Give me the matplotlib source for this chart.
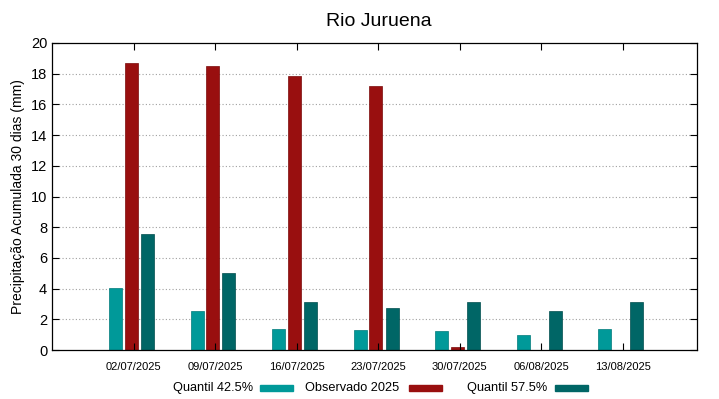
import numpy as np
import matplotlib
matplotlib.use("Agg")
import matplotlib.pyplot as plt
from matplotlib.patches import Rectangle

plt.rcParams['font.family'] = ['Liberation Sans', 'DejaVu Sans']

datas = ["02/07/2025", "09/07/2025", "16/07/2025", "23/07/2025",
         "30/07/2025", "06/08/2025", "13/08/2025"]
quantil_425 = [4.04, 2.52, 1.38, 1.28, 1.24, 0.98, 1.38]
observado_2025 = [18.7, 18.5, 17.85, 17.2, 0.2, 0.0, 0.0]
quantil_575 = [7.56, 5.02, 3.12, 2.74, 3.15, 2.53, 3.15]

cor_q425 = "#009999"
cor_obs = "#990f0f"
cor_q575 = "#006666"

fig = plt.figure(figsize=(7.19, 3.99), dpi=100)
ax = fig.add_axes([52 / 719, 1 - 350 / 399, 645 / 719, 307 / 399])

x = np.arange(len(datas))
largura = 0.16
ax.bar(x - 0.22, quantil_425, largura, color=cor_q425, edgecolor="#007a7a", linewidth=0.5)
ax.bar(x - 0.03, observado_2025, largura, color=cor_obs, edgecolor="#7a0a0a", linewidth=0.5)
ax.bar(x + 0.17, quantil_575, largura, color=cor_q575, edgecolor="#004d4d", linewidth=0.5)

ax.set_xlim(-1, 6.91)
ax.set_ylim(0, 20)
ax.set_yticks(range(0, 21, 2))
ax.set_xticks(x)
ax.set_xticklabels(datas, fontsize=8)
for lbl in ax.get_xticklabels():
    lbl.set_x(lbl.get_position()[0])
ax.tick_params(axis='y', labelsize=10.5, direction='in', right=True, length=5)
ax.tick_params(axis='x', direction='in', top=True, length=5, pad=9)
for y in range(2, 20, 2):
    ax.axhline(y, color="#a0a0a0", linestyle=(0, (1, 2)), linewidth=0.8, zorder=0)
for s in ax.spines.values():
    s.set_linewidth(0.9)

ax.set_ylabel("Precipitação Acumulada 30 dias (mm)", fontsize=10)
ax.set_title("Rio Juruena", fontsize=14, pad=12, x=0.507)

# legenda estilo gnuplot: texto e depois a cor
itens = [("Quantil 42.5%", cor_q425, 253, 260),
         ("Observado 2025", cor_obs, 399, 409),
         ("Quantil 57.5%", cor_q575, 547, 555)]
for texto, cor, xt, xr in itens:
    fig.text(xt / 719, 1 - 388 / 399, texto, ha='right', va='center', fontsize=9.2)
    fig.patches.append(Rectangle((xr / 719, 1 - 391 / 399), 33 / 719, 6 / 399,
                                 transform=fig.transFigure, color=cor))

fig.savefig("out.png", dpi=100)
